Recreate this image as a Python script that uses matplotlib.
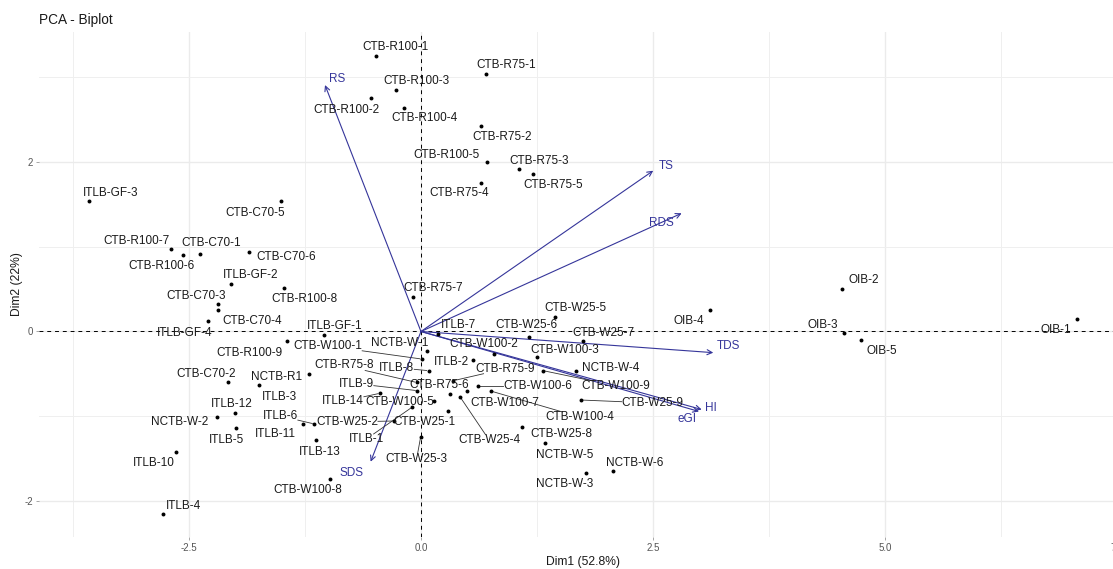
import matplotlib
matplotlib.use('Agg')
import matplotlib.pyplot as plt
import numpy as np

plt.rcParams['font.family'] = ['Liberation Sans', 'DejaVu Sans']

# individuals (scores on the first two components)
ind_names = [
    'CTB-R100-1', 'CTB-R75-1', 'CTB-R100-3', 'CTB-R100-2', 'CTB-R100-4', 'CTB-R75-2',
    'CTB-R100-5', 'CTB-R75-3', 'CTB-R75-5', 'CTB-R75-4', 'ITLB-GF-3', 'CTB-C70-5',
    'CTB-R100-7', 'CTB-R100-6', 'CTB-C70-1', 'CTB-C70-6', 'ITLB-GF-2', 'CTB-R100-8',
    'CTB-C70-3', 'CTB-C70-4', 'ITLB-GF-4', 'ITLB-GF-1', 'CTB-R100-9', 'CTB-R75-7',
    'CTB-W25-5', 'OIB-4', 'ITLB-7', 'CTB-W25-6', 'CTB-W25-7', 'CTB-W100-3',
    'CTB-W100-2', 'NCTB-W-1', 'CTB-W100-1', 'ITLB-2', 'ITLB-8', 'CTB-R75-8',
    'CTB-R75-9', 'NCTB-W-4', 'CTB-W100-9', 'CTB-W100-6', 'ITLB-9', 'CTB-R75-6',
    'CTB-W25-4', 'CTB-W100-7', 'CTB-W100-4', 'CTB-W100-5', 'ITLB-14', 'CTB-W25-1',
    'CTB-W25-2', 'ITLB-1', 'CTB-W25-3', 'ITLB-6', 'ITLB-11', 'ITLB-13',
    'ITLB-12', 'NCTB-W-2', 'ITLB-5', 'CTB-C70-2', 'NCTB-R1', 'ITLB-3',
    'ITLB-10', 'ITLB-4', 'CTB-W100-8', 'CTB-W25-8', 'NCTB-W-5', 'NCTB-W-6',
    'NCTB-W-3', 'CTB-W25-9', 'OIB-2', 'OIB-3', 'OIB-5', 'OIB-1',
]
dim1 = [
    -0.482, 0.704, -0.266, -0.542, -0.180, 0.650,
    0.711, 1.059, 1.204, 0.650, -3.574, -1.509,
    -2.694, -2.568, -2.381, -1.853, -2.047, -1.473,
    -2.191, -2.184, -2.298, -1.045, -1.444, -0.089,
    1.444, 3.114, 0.186, 1.161, 1.749, 1.247,
    0.790, 0.061, 0.008, 0.557, 0.083, -0.046,
    0.348, 1.667, 1.318, 0.611, -0.040, 0.309,
    0.420, 0.492, 0.751, 0.143, -0.442, 0.294,
    -0.291, -0.092, -0.003, -1.150, -1.268, -1.131,
    -2.004, -2.202, -1.994, -2.077, -1.204, -1.746,
    -2.640, -2.783, -0.981, 1.085, 1.336, 2.072,
    1.778, 1.721, 4.540, 4.561, 4.741, 7.072,
]
dim2 = [
    3.241, 3.026, 2.841, 2.744, 2.626, 2.421,
    1.994, 1.915, 1.849, 1.744, 1.539, 1.539,
    0.971, 0.904, 0.912, 0.935, 0.562, 0.508,
    0.320, 0.253, 0.127, -0.038, -0.108, 0.409,
    0.167, 0.253, -0.029, -0.061, -0.112, -0.304,
    -0.265, -0.226, -0.324, -0.339, -0.461, -0.600,
    -0.579, -0.461, -0.461, -0.638, -0.696, -0.735,
    -0.767, -0.700, -0.700, -0.814, -0.727, -0.932,
    -1.053, -0.888, -1.238, -1.088, -1.088, -1.282,
    -0.955, -1.002, -1.139, -0.598, -0.500, -0.629,
    -1.414, -2.151, -1.735, -1.120, -1.315, -1.641,
    -1.668, -0.806, 0.496, -0.021, -0.100, 0.144,
]
# where each name sits relative to its point (pixels)
label_dx = [
    19, 20, 20, -24, 20, 21,
    -40, 20, 20, -22, 21, -26,
    -34, -21, 11, 37, 20, 20,
    -22, 34, -23, 11, -38, 20,
    20, -21, 20, -2, 20, 28,
    -11, -27, -94, -21, -32, -73,
    52, 35, 72, 60, -61, -10,
    29, 38, 89, -34, -37, -24,
    -47, -46, -4, -34, -28, 4,
    -3, -37, -9, -22, -33, 21,
    -22, 21, -22, 40, 20, 21,
    -21, 72, 21, -21, 21, -21,
]
label_dy = [
    9, 9, 9, -12, -10, -11,
    7, 8, -11, -10, 8, -12,
    8, -11, 11, -5, 9, -11,
    8, -11, -12, 9, -12, 9,
    9, -11, 9, 12, 8, 7,
    10, 8, 13, -2, 3, 17,
    12, 3, -15, 0, 7, 9,
    -43, -12, -26, -1, -8, -11,
    -1, -32, -22, 8, -10, -12,
    9, -5, -12, 8, -3, -12,
    -11, 8, -11, -7, -12, 8,
    -11, -3, 9, 8, -11, -11,
]

# variables (loadings, scaled)
var_names = ['RS', 'TS', 'RDS', 'TDS', 'HI', 'eGI', 'SDS']
var_dim1 = [-1.034, 2.503, 2.809, 3.150, 3.025, 2.996, -0.542]
var_dim2 = [2.900, 1.892, 1.391, -0.249, -0.918, -0.941, -1.532]
var_dx = [12, 13, -20, 15, 9, -12, -19]
var_dy = [6, 5, -10, 7, 2, -8, -11]

W, H = 1113, 569
fig = plt.figure(figsize=(W / 100, H / 100), dpi=100)
ax = fig.add_axes([39 / W, 1 - 537 / H, (1128 - 39) / W, (537 - 32) / H])
ax.set_xlim(-4.116, 7.619)
ax.set_ylim(-2.418, 3.524)

ax.set_xticks([-2.5, 0, 2.5, 5.0, 7.5])
ax.set_xticklabels(['-2.5', '0.0', '2.5', '5.0', '7.5'])
ax.set_xticks([-3.75, -1.25, 1.25, 3.75, 6.25], minor=True)
ax.set_yticks([-2, 0, 2])
ax.set_yticklabels(['-2', '0', '2'])
ax.set_yticks([-1, 1, 3], minor=True)
ax.grid(which='major', color='#EBEBEB', lw=1.0)
ax.grid(which='minor', color='#EFEFEF', lw=0.7)
ax.set_axisbelow(True)
for s in ax.spines.values():
    s.set_visible(False)
ax.tick_params(which='major', length=2.5, width=0.6, color='#999999',
               labelsize=7, labelcolor='#555555', pad=2)
ax.tick_params(which='minor', length=0)

ax.axhline(0, color='black', lw=0.7, ls=(0, (4, 4)), zorder=1)
ax.axvline(0, color='black', lw=0.7, ls=(0, (4, 4)), zorder=1)

vcol = '#35359A'
for name, x, y, dx, dy in zip(var_names, var_dim1, var_dim2, var_dx, var_dy):
    ax.annotate('', xy=(x, y), xytext=(0, 0),
                arrowprops=dict(arrowstyle='->', color=vcol, lw=0.8,
                                mutation_scale=9, shrinkA=0, shrinkB=0),
                zorder=2)
    ax.annotate(name, (x, y), xytext=(dx, dy), textcoords='offset pixels',
                ha='center', va='center', fontsize=8.5, color=vcol, zorder=4)

ax.scatter(dim1, dim2, s=8, c='black', linewidths=0, zorder=3)

texts = []
for name, x, y, dx, dy in zip(ind_names, dim1, dim2, label_dx, label_dy):
    t = ax.annotate(name, (x, y), xytext=(dx, dy), textcoords='offset pixels',
                    ha='center', va='center', fontsize=8.5, color='#1A1A1A', zorder=4)
    texts.append((t, x, y))

# connector segments for names that sit away from their point
fig.canvas.draw()
rend = fig.canvas.get_renderer()
inv = ax.transData.inverted()
for t, x, y in texts:
    bb = t.get_window_extent(rend)
    p = ax.transData.transform((x, y))
    c = np.array([(bb.x0 + bb.x1) / 2, (bb.y0 + bb.y1) / 2])
    hw, hh = bb.width / 2, bb.height / 2 - 1
    d = p - c
    # distance from the point to the label box
    gx = max(abs(d[0]) - hw, 0)
    gy = max(abs(d[1]) - hh, 0)
    if np.hypot(gx, gy) <= 11:
        continue
    k = min(hw / abs(d[0]) if d[0] else np.inf, hh / abs(d[1]) if d[1] else np.inf)
    start = c + k * d
    gap = np.hypot(*(p - start))
    end = p - (p - start) / gap * 2
    a, b = inv.transform([start, end])
    ax.plot([a[0], b[0]], [a[1], b[1]], color='#333333', lw=0.6, zorder=2)

fig.text(39 / W, 1 - 20 / H, 'PCA - Biplot', fontsize=9.8, color='#1A1A1A',
         ha='left', va='center')
fig.text(583.5 / W, 1 - 561.5 / H, 'Dim1 (52.8%)', fontsize=8.7, color='#1A1A1A',
         ha='center', va='center')
fig.text(17 / W, 1 - 284.5 / H, 'Dim2 (22%)', fontsize=8.7, color='#1A1A1A',
         ha='center', va='center', rotation=90)

fig.savefig('out.png', dpi=100)
